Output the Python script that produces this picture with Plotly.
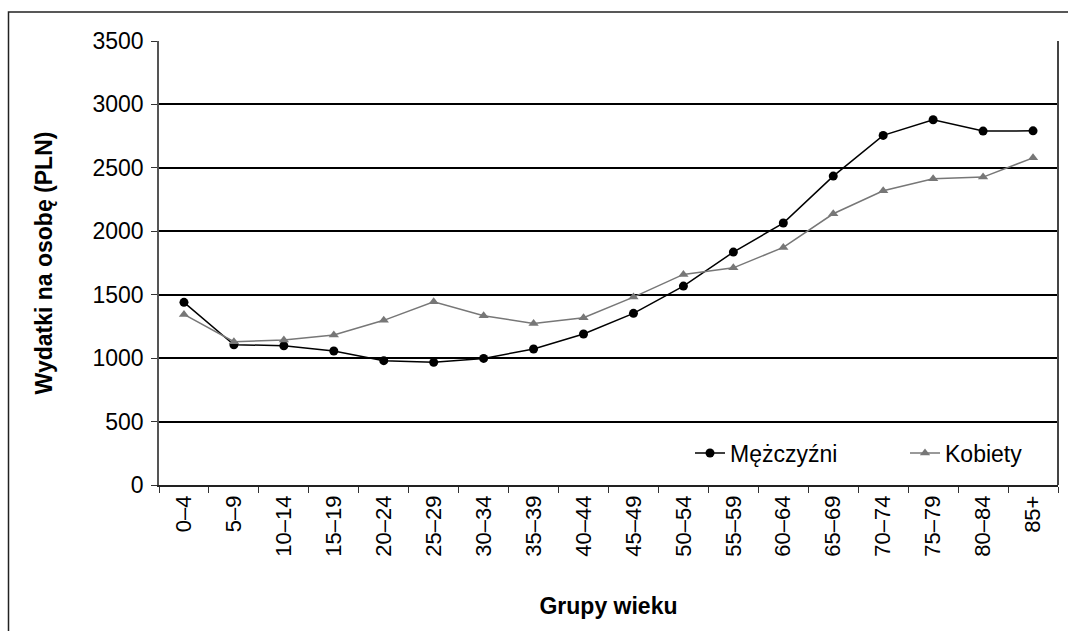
import plotly.graph_objects as go

categories = ["0–4", "5–9", "10–14", "15–19", "20–24", "25–29", "30–34", "35–39",
              "40–44", "45–49", "50–54", "55–59", "60–64", "65–69", "70–74", "75–79",
              "80–84", "85+"]
men = [1440, 1106, 1098, 1056, 980, 967, 998, 1072, 1190, 1353, 1568, 1836, 2065,
       2435, 2756, 2879, 2790, 2792]
women = [1345, 1129, 1143, 1182, 1298, 1445, 1334, 1274, 1318, 1481, 1660, 1712, 1873,
         2138, 2319, 2414, 2427, 2579]
y_ticks = [0, 500, 1000, 1500, 2000, 2500, 3000, 3500]

FONT = "Liberation Sans, Arial, sans-serif"

fig = go.Figure()
fig.add_trace(go.Scatter(
    x=categories, y=men, name="Mężczyźni", mode="lines+markers",
    line=dict(color="#000000", width=1.5),
    marker=dict(symbol="circle", size=9, color="#000000"),
))
fig.add_trace(go.Scatter(
    x=categories, y=women, name="Kobiety", mode="lines+markers",
    line=dict(color="#777777", width=1.5),
    marker=dict(symbol="triangle-up", size=9, color="#777777"),
))

W, H = 1068, 631
L, R, T, B = 159, 10, 41, 146
pw, ph = W - L - R, H - T - B

def px_x(x):
    return (x - L) / pw

def px_y(y):
    return (H - B - y) / ph

fig.update_layout(
    width=W, height=H,
    margin=dict(l=L, r=R, t=T, b=B, pad=0, autoexpand=False),
    paper_bgcolor="white", plot_bgcolor="white",
    font=dict(family=FONT, size=23, color="#000000"),
    showlegend=True,
    legend=dict(
        orientation="h", x=px_x(690), xanchor="left", y=px_y(453), yanchor="middle",
        bgcolor="rgba(0,0,0,0)", font=dict(size=23, family=FONT),
        entrywidth=170, itemwidth=30,
    ),
    xaxis=dict(
        type="category", range=[-0.5, 17.5], tickson="boundaries",
        ticks="outside", ticklen=6, tickcolor="#333333",
        showgrid=False, showline=True, linecolor="#222222", linewidth=1.5,
        tickangle=-90, tickfont=dict(size=22, family=FONT),
        title=dict(text="<b>Grupy wieku</b>", font=dict(size=23, family=FONT), standoff=42),
        automargin=False,
    ),
    yaxis=dict(
        range=[0, 3500], tickvals=y_ticks, ticks="outside", ticklen=6,
        tickcolor="#333333", ticklabelstandoff=3,
        showgrid=True, gridcolor="#000000", gridwidth=1.5,
        showline=True, linecolor="#555555", linewidth=1.5,
        tickfont=dict(size=23, family=FONT),
        title=dict(text="<b>Wydatki na osobę (PLN)</b>", font=dict(size=23, family=FONT), standoff=33),
        zeroline=False, automargin=False,
    ),
    shapes=[
        dict(type="line", xref="paper", yref="paper", x0=1, x1=1, y0=0, y1=1,
             line=dict(color="#444444", width=2)),
        dict(type="rect", xref="paper", yref="paper",
             x0=px_x(8.5), x1=px_x(1090), y0=px_y(660), y1=px_y(12),
             line=dict(color="#222222", width=1.5), fillcolor="rgba(0,0,0,0)", layer="below"),
    ],
)

fig.write_html(
    "out.html",
    config={"displayModeBar": False},
    post_script="document.body.style.margin='0';document.body.style.overflow='hidden';",
)
